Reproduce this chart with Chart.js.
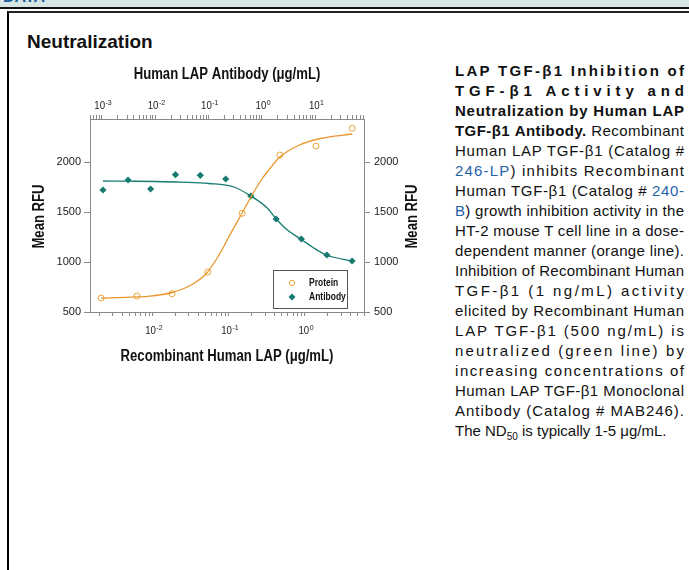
<!DOCTYPE html>
<html>
<head>
<meta charset="utf-8">
<script src="https://cdn.jsdelivr.net/npm/chart.js@4"></script>
<style>
  body { margin: 0; background: #fff; font-family: Arial, "Liberation Sans", sans-serif; }
  .band { position: absolute; left: 0; top: 0; width: 689px; height: 7px; background: #d8e5e5; overflow: hidden; }
  .band span { position: absolute; left: 3px; top: -12px; color: #1d5c9e; font: bold 16px Arial, "Liberation Sans", sans-serif; }
  .rule { position: absolute; height: 2px; background: #111; }
  .box { position: absolute; left: 7px; top: 11px; width: 700px; height: 600px; border-left: 2px solid #000; border-top: 2px solid #222; }
  h2 { position: absolute; left: 27px; top: 31px; margin: 0; font: bold 19px/22px Arial, "Liberation Sans", sans-serif; color: #111; }
  .chart-wrap { position: absolute; left: 20px; top: 55px; width: 410px; height: 320px; }
  .caption { position: absolute; left: 455px; top: 61px; width: 229px; font-size: 15px; line-height: 20px; color: #111; }
  .caption .ln { white-space: nowrap; }
  .caption a { color: #1f63a8; text-decoration: none; }
  .caption sub { font-size: 10px; vertical-align: -4px; line-height: 0; }
</style>
</head>
<body>
<div class="band"><span>DATA</span></div>
<div class="rule" style="left:0; top:7px; width:689px;"></div>
<div class="box"></div>
<h2>Neutralization</h2>
<div class="chart-wrap"><canvas id="neutral-chart"></canvas></div>
<div class="caption">
  <div class="ln fit"><span><b>LAP TGF-β1 Inhibition of</b></span></div>
  <div class="ln fit"><span><b>TGF-β1 Activity and</b></span></div>
  <div class="ln fit"><span><b>Neutralization by Human LAP</b></span></div>
  <div class="ln fit"><span><b>TGF-β1 Antibody.</b> Recombinant</span></div>
  <div class="ln fit"><span>Human LAP TGF-β1 (Catalog #</span></div>
  <div class="ln fit"><span><a>246-LP</a>) inhibits Recombinant</span></div>
  <div class="ln fit"><span>Human TGF-β1 (Catalog # <a>240-</a></span></div>
  <div class="ln fit"><span><a>B</a>) growth inhibition activity in the</span></div>
  <div class="ln fit"><span>HT-2 mouse T cell line in a dose-</span></div>
  <div class="ln fit"><span>dependent manner (orange line).</span></div>
  <div class="ln fit"><span>Inhibition of Recombinant Human</span></div>
  <div class="ln fit"><span>TGF-β1 (1 ng/mL) activity</span></div>
  <div class="ln fit"><span>elicited by Recombinant Human</span></div>
  <div class="ln fit"><span>LAP TGF-β1 (500 ng/mL) is</span></div>
  <div class="ln fit"><span>neutralized (green line) by</span></div>
  <div class="ln fit"><span>increasing concentrations of</span></div>
  <div class="ln fit"><span>Human LAP TGF-β1 Monoclonal</span></div>
  <div class="ln fit"><span>Antibody (Catalog # MAB246).</span></div>
  <div class="ln"><span>The ND<sub>50</sub> is typically 1-5 μg/mL.</span></div>
</div>
<script>
// Recombinant Human LAP (ug/mL) vs Mean RFU - orange, bottom axis
const proteinConc = [0.0021, 0.0062, 0.018, 0.053, 0.15, 0.47, 1.4, 4.2];
const proteinRFU = [640, 660, 683, 900, 1487, 2070, 2160, 2337];
// fitted curve
const proteinFitConc = [0.0021, 0.005, 0.01, 0.018, 0.032, 0.05, 0.076, 0.1, 0.15, 0.21, 0.27, 0.32, 0.47, 0.85, 1.6, 4.2];
const proteinFitRFU = [638, 648, 662, 695, 770, 880, 1080, 1250, 1490, 1690, 1825, 1900, 2050, 2170, 2235, 2280];

// Human LAP Antibody (ug/mL) vs Mean RFU - green, top axis
const antibodyConc = [0.00105, 0.0031, 0.0082, 0.024, 0.07, 0.21, 0.62, 1.85, 5.5, 16.5, 49];
const antibodyRFU = [1720, 1820, 1730, 1873, 1867, 1830, 1660, 1430, 1230, 1070, 1010];
const antibodyFitConc = [0.00105, 0.0032, 0.01, 0.032, 0.1, 0.3, 0.62, 1.26, 1.86, 3.0, 5.5, 9.1, 16.2, 49];
const antibodyFitRFU = [1810, 1808, 1805, 1798, 1785, 1750, 1660, 1540, 1430, 1320, 1225, 1145, 1070, 1010];

// ticks and labels
const rfuTicks = [500, 1000, 1500, 2000];
const lapTickValues = [0.01, 0.1, 1];
const lapTickExp = ['-2', '-1', '0'];
const abTickValues = [0.001, 0.01, 0.1, 1, 10];
const abTickExp = ['-3', '-2', '-1', '0', '1'];
const lapTitle = 'Recombinant Human LAP (μg/mL)';
const abTitle = 'Human LAP Antibody (μg/mL)';
const rfuTitle = 'Mean RFU';
const legendLabels = ['Protein', 'Antibody'];

const ORANGE = '#eba23c';
const ORANGE_LINE = '#e8972c';
const TEAL = '#177b70';
const AXIS = '#8a8a8a';
const FAMILY = '"Liberation Sans", Arial, sans-serif';

function toPoints(xs, ys) {
    return xs.map(function (x, i) { return { x: x, y: ys[i] }; });
}

// minor + major ticks on a log axis
function logTicks(scale) {
    const ticks = [];
    const lo = Math.floor(Math.log10(scale.min));
    const hi = Math.ceil(Math.log10(scale.max));
    for (let d = lo; d <= hi; d++) {
        for (let m = 1; m <= 9; m++) {
            const v = m * Math.pow(10, d);
            if (v >= scale.min && v <= scale.max) ticks.push({ value: v, major: m === 1 });
        }
    }
    scale.ticks = ticks;
}

function fixSize(size) {
    return function (scale) {
        if (scale.isHorizontal()) scale.height = size; else scale.width = size;
    };
}

// condensed-looking text: squeeze horizontally
function drawNarrow(ctx, text, x, y, font, sx, rot, align) {
    ctx.save();
    ctx.translate(x, y);
    if (rot) ctx.rotate(rot);
    ctx.scale(sx, 1);
    ctx.font = font;
    ctx.fillStyle = '#111';
    ctx.textAlign = align || 'center';
    ctx.textBaseline = 'middle';
    ctx.fillText(text, 0, 0);
    ctx.restore();
}

// "10" with a raised exponent, centred on the tick
function drawPower(ctx, x, baseY, exp) {
    ctx.save();
    ctx.fillStyle = '#222';
    ctx.textBaseline = 'alphabetic';
    ctx.textAlign = 'left';
    ctx.font = '11px ' + FAMILY;
    const wb = ctx.measureText('10').width * 0.88;
    ctx.font = '8px ' + FAMILY;
    const we = ctx.measureText(exp).width * 0.88;
    const x0 = x - (wb + we) / 2 + 1;
    ctx.translate(x0, baseY);
    ctx.scale(0.88, 1);
    ctx.font = '11px ' + FAMILY;
    ctx.fillText('10', 0, 0);
    ctx.font = '8px ' + FAMILY;
    ctx.fillText(exp, wb / 0.88 + 0.5, -4.5);
    ctx.restore();
}

const axisText = {
    id: 'axisText',
    afterDraw(chart) {
        const ctx = chart.ctx;
        const a = chart.chartArea;
        const xb = chart.scales.xb, xt = chart.scales.xt;
        const titleFont = 'bold 16px ' + FAMILY;
        const cx = (a.left + a.right) / 2, cy = (a.top + a.bottom) / 2;

        drawNarrow(ctx, abTitle, cx, a.top - 44, titleFont, 0.82);
        drawNarrow(ctx, lapTitle, cx, a.bottom + 45, titleFont, 0.82);
        drawNarrow(ctx, rfuTitle, a.left - 50, cy + 1, titleFont, 0.82, -Math.PI / 2);
        drawNarrow(ctx, rfuTitle, a.right + 49, cy + 1, titleFont, 0.82, -Math.PI / 2);

        abTickValues.forEach(function (v, i) { drawPower(ctx, xt.getPixelForValue(v), a.top - 10, abTickExp[i]); });
        lapTickValues.forEach(function (v, i) { drawPower(ctx, xb.getPixelForValue(v), a.bottom + 22, lapTickExp[i]); });
    }
};

// legend box drawn inside the plot
const legendBox = {
    id: 'legendBox',
    afterDatasetsDraw(chart) {
        const ctx = chart.ctx;
        const area = chart.chartArea;
        const x = area.right - 91, y = area.bottom - 42, w = 74, h = 38;
        ctx.save();
        ctx.fillStyle = '#fff';
        ctx.fillRect(x, y, w, h);
        ctx.strokeStyle = '#555';
        ctx.lineWidth = 1;
        ctx.strokeRect(x + 0.5, y + 0.5, w, h);

        ctx.strokeStyle = ORANGE;
        ctx.beginPath();
        ctx.arc(x + 19, y + 13, 2.6, 0, Math.PI * 2);
        ctx.stroke();

        ctx.fillStyle = TEAL;
        ctx.beginPath();
        ctx.moveTo(x + 19, y + 23.5);
        ctx.lineTo(x + 22.5, y + 27);
        ctx.lineTo(x + 19, y + 30.5);
        ctx.lineTo(x + 15.5, y + 27);
        ctx.closePath();
        ctx.fill();
        ctx.restore();

        drawNarrow(ctx, legendLabels[0], x + 36, y + 13, 'bold 10px ' + FAMILY, 0.85, 0, 'left');
        drawNarrow(ctx, legendLabels[1], x + 36, y + 27, 'bold 10px ' + FAMILY, 0.85, 0, 'left');
    }
};

document.addEventListener('DOMContentLoaded', function () {
    // stretch each caption line to the column width
    document.querySelectorAll('.caption .fit').forEach(function (line) {
        const span = line.firstElementChild;
        const w = span.getBoundingClientRect().width;
        const n = span.textContent.length;
        line.style.letterSpacing = ((229 - w) / (n - 1)) + 'px';
    });

    const tickFont = { family: FAMILY, size: 11 };
    const axisGrid = { drawOnChartArea: false, drawTicks: true, tickLength: 4, color: AXIS, tickColor: AXIS };
    const axisBorder = { display: true, color: AXIS, width: 1 };
    const noLabel = function () { return ''; };
    const rfuLabel = function (value) { return String(value); };

    const config = {
        type: 'scatter',
        data: {
            datasets: [
                {
                    label: 'Protein fit',
                    type: 'line',
                    data: toPoints(proteinFitConc, proteinFitRFU),
                    xAxisID: 'xb', yAxisID: 'y',
                    borderColor: ORANGE_LINE, borderWidth: 1.3,
                    pointRadius: 0, cubicInterpolationMode: 'monotone', fill: false
                },
                {
                    label: 'Antibody fit',
                    type: 'line',
                    data: toPoints(antibodyFitConc, antibodyFitRFU),
                    xAxisID: 'xt', yAxisID: 'y',
                    borderColor: TEAL, borderWidth: 1.3,
                    pointRadius: 0, cubicInterpolationMode: 'monotone', fill: false
                },
                {
                    label: 'Protein',
                    data: toPoints(proteinConc, proteinRFU),
                    xAxisID: 'xb', yAxisID: 'y',
                    pointStyle: 'circle', pointRadius: 3,
                    borderColor: ORANGE, borderWidth: 1, backgroundColor: '#fff'
                },
                {
                    label: 'Antibody',
                    data: toPoints(antibodyConc, antibodyRFU),
                    xAxisID: 'xt', yAxisID: 'y',
                    pointStyle: 'rectRot', pointRadius: 3.6,
                    borderColor: TEAL, borderWidth: 0, backgroundColor: TEAL
                }
            ]
        },
        options: {
            responsive: true,
            maintainAspectRatio: false,
            animation: false,
            layout: { padding: 0 },
            plugins: { legend: { display: false }, tooltip: { enabled: false } },
            scales: {
                xb: {
                    type: 'logarithmic', position: 'bottom',
                    min: 0.0015, max: 6,
                    afterBuildTicks: logTicks,
                    afterFit: fixSize(63),
                    grid: axisGrid, border: axisBorder,
                    ticks: { autoSkip: false, maxRotation: 0, callback: noLabel }
                },
                xt: {
                    type: 'logarithmic', position: 'top',
                    min: 0.00062, max: 82,
                    afterBuildTicks: logTicks,
                    afterFit: fixSize(64),
                    grid: axisGrid, border: axisBorder,
                    ticks: { autoSkip: false, maxRotation: 0, callback: noLabel }
                },
                y: {
                    type: 'linear', position: 'left',
                    min: 500, max: 2430,
                    afterBuildTicks: function (scale) { scale.ticks = rfuTicks.map(function (v) { return { value: v }; }); },
                    afterFit: fixSize(70),
                    grid: { drawOnChartArea: false, tickLength: 6, color: AXIS, tickColor: AXIS },
                    border: axisBorder,
                    ticks: { padding: 3, color: '#222', font: tickFont, callback: rfuLabel }
                },
                y2: {
                    type: 'linear', position: 'right', display: true,
                    min: 500, max: 2430,
                    afterBuildTicks: function (scale) { scale.ticks = rfuTicks.map(function (v) { return { value: v }; }); },
                    afterFit: fixSize(66),
                    grid: { drawOnChartArea: false, tickLength: 6, color: AXIS, tickColor: AXIS },
                    border: axisBorder,
                    ticks: { padding: 4, color: '#222', font: tickFont, callback: rfuLabel }
                }
            }
        },
        plugins: [legendBox, axisText]
    };

    new Chart(document.getElementById('neutral-chart'), config);
});
</script>
</body>
</html>
